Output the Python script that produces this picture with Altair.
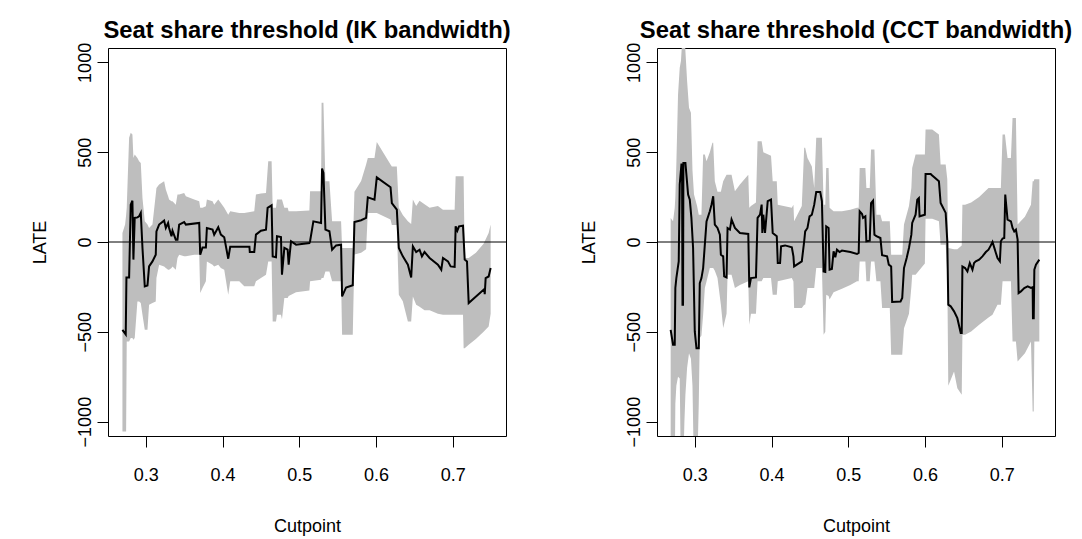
import altair as alt
import pandas as pd

# ---------------- data ----------------
X_DOMAIN = [0.2508, 0.7692]
Y_DOMAIN = [-1080, 1080]
X_TICKS = [0.3, 0.4, 0.5, 0.6, 0.7]
Y_TICKS = [-1000, -500, 0, 500, 1000]

TITLE_IK = "Seat share threshold (IK bandwidth)"
TITLE_CCT = "Seat share threshold (CCT bandwidth)"

# IK panel: point estimate
ik_cut = [
    0.2696, 0.2739, 0.2748, 0.2783, 0.2804, 0.2826, 0.2839, 0.2856, 0.2891, 0.2913,
    0.2935, 0.2957, 0.2987, 0.3022, 0.3043, 0.3087, 0.3130, 0.3139, 0.3174, 0.3239,
    0.3261, 0.3291, 0.3304, 0.3335, 0.3348, 0.3391, 0.3413, 0.3435, 0.3500, 0.3522,
    0.3696, 0.3709, 0.3739, 0.3783, 0.3796, 0.3870, 0.3891, 0.3944, 0.3978, 0.4022,
    0.4074, 0.4100, 0.4350, 0.4355, 0.4413, 0.4435, 0.4500, 0.4566, 0.4587, 0.4639,
    0.4653, 0.4696, 0.4709, 0.4761, 0.4774, 0.4805, 0.4848, 0.4861, 0.4892, 0.4957,
    0.5131, 0.5140, 0.5183, 0.5283, 0.5296, 0.5314, 0.5340, 0.5392, 0.5427, 0.5479,
    0.5544, 0.5557, 0.5609, 0.5696, 0.5718, 0.5805, 0.5870, 0.5892, 0.5979, 0.6009,
    0.6188, 0.6205, 0.6270, 0.6296, 0.6348, 0.6414, 0.6457, 0.6479, 0.6522, 0.6566,
    0.6597, 0.6631, 0.6697, 0.6805, 0.6849, 0.6871, 0.6936, 0.6971, 0.7023, 0.7036,
    0.7058, 0.7080, 0.7132, 0.7154, 0.7184, 0.7206, 0.7410, 0.7415, 0.7427, 0.7466,
    0.7492,
]
ik_late = [
    -489, -515, -197, -197, 208, 230, -98, 134, 137, 143,
    162, -33, -247, -242, -136, -108, -71, 59, 97, 119,
    78, 106, 78, 32, 63, 13, 13, 97, 111, 97,
    106, -71, -30, -30, 78, 69, 41, 82, 41, 26,
    -93, -26, -26, -55, -55, 41, 63, 69, 190, 204,
    -80, -85, 32, 28, -182, -33, -43, -126, 4, -15,
    -6, 4, 115, 106, 409, 385, 69, 60, -43, -19,
    -15, -303, -253, -241, 111, 121, 134, 249, 236, 360,
    305, 217, 180, -33, -80, -126, -197, -24, -56, -43,
    -80, -56, -89, -126, -154, -89, -108, -136, -139, 87,
    63, 87, 91, -98, -108, -340, -262, -290, -201, -192,
    -145,
]

# IK panel: confidence band
ik_band_cut = [
    0.2696, 0.2731, 0.2744, 0.2752, 0.2783, 0.2804, 0.2826, 0.2839, 0.2856, 0.2891,
    0.2913, 0.2935, 0.2957, 0.2987, 0.3022, 0.3043, 0.3087, 0.3130, 0.3139, 0.3174,
    0.3239, 0.3261, 0.3291, 0.3304, 0.3335, 0.3348, 0.3391, 0.3413, 0.3435, 0.3500,
    0.3522, 0.3631, 0.3696, 0.3709, 0.3739, 0.3783, 0.3796, 0.3870, 0.3891, 0.3944,
    0.3978, 0.4022, 0.4074, 0.4100, 0.4218, 0.4283, 0.4413, 0.4435, 0.4500, 0.4566,
    0.4595, 0.4639, 0.4653, 0.4696, 0.4709, 0.4761, 0.4774, 0.4805, 0.4848, 0.4861,
    0.4957, 0.5131, 0.5140, 0.5283, 0.5290, 0.5314, 0.5340, 0.5392, 0.5427, 0.5544,
    0.5557, 0.5696, 0.5718, 0.5805, 0.5870, 0.5892, 0.5979, 0.6009, 0.6188, 0.6205,
    0.6270, 0.6296, 0.6348, 0.6414, 0.6457, 0.6479, 0.6522, 0.6566, 0.6631, 0.6697,
    0.6805, 0.6871, 0.7023, 0.7036, 0.7132, 0.7140, 0.7154, 0.7206, 0.7300, 0.7400,
    0.7466, 0.7492,
]
ik_lo = [
    -1055, -1055, -1055, -554, -554, -535, -535, -544, -535, -331,
    -331, -340, -405, -489, -489, -349, -340, -331, -201, -126,
    -136, -145, -154, -154, -145, -136, -154, -89, -71, -80,
    -80, -71, -71, -284, -256, -219, -108, -126, -136, -126,
    -145, -154, -294, -219, -219, -247, -247, -219, -200, -182,
    -108, -108, -442, -442, -405, -405, -430, -312, -312, -300,
    -280, -270, -219, -210, -200, -200, -164, -164, -219, -219,
    -517, -517, -70, -60, -40, 162, 162, 162, 125, 95,
    95, -294, -330, -442, -442, -303, -349, -360, -380, -380,
    -400, -405, -405, -405, -405, -591, -591, -572, -540, -500,
    -470, -400,
]
ik_hi = [
    50, 97, 150, 190, 580, 608, 598, 468, 487, 468,
    450, 440, 245, 115, 97, 78, 97, 264, 301, 320,
    338, 292, 255, 236, 227, 227, 208, 264, 264, 273,
    255, 236, 227, 190, 190, 199, 236, 227, 208, 236,
    217, 190, 152, 171, 162, 162, 171, 264, 270, 273,
    450, 450, 190, 190, 236, 236, 236, 190, 190, 171,
    171, 175, 282, 282, 775, 775, 338, 338, 115, 115,
    -33, -33, 280, 340, 431, 468, 468, 557, 431, 420,
    420, 190, 150, 115, 100, 236, 200, 230, 210, 190,
    200, 180, 180, 366, 366, 366, -89, -89, -60, -10,
    50, 97,
]

# CCT panel: point estimate
cct_cut = [
    0.2686, 0.2717, 0.2739, 0.2747, 0.2760, 0.2791, 0.2804, 0.2826, 0.2834, 0.2840,
    0.2847, 0.2852, 0.2878, 0.2913, 0.2935, 0.2956, 0.2978, 0.3000, 0.3022, 0.3052,
    0.3065, 0.3087, 0.3109, 0.3131, 0.3153, 0.3196, 0.3218, 0.3240, 0.3261, 0.3296,
    0.3327, 0.3340, 0.3370, 0.3383, 0.3414, 0.3427, 0.3458, 0.3479, 0.3523, 0.3588,
    0.3697, 0.3710, 0.3732, 0.3797, 0.3818, 0.3850, 0.3871, 0.3880, 0.3893, 0.3915,
    0.3950, 0.3993, 0.4015, 0.4068, 0.4081, 0.4111, 0.4124, 0.4176, 0.4264, 0.4285,
    0.4294, 0.4394, 0.4425, 0.4438, 0.4468, 0.4495, 0.4525, 0.4556, 0.4582, 0.4634,
    0.4656, 0.4678, 0.4700, 0.4712, 0.4743, 0.4756, 0.4786, 0.4808, 0.4830, 0.4852,
    0.4886, 0.4917, 0.5026, 0.5113, 0.5135, 0.5148, 0.5179, 0.5192, 0.5222, 0.5235,
    0.5279, 0.5296, 0.5322, 0.5340, 0.5366, 0.5418, 0.5440, 0.5505, 0.5527, 0.5558,
    0.5571, 0.5680, 0.5702, 0.5725, 0.5760, 0.5790, 0.5821, 0.5832, 0.5876, 0.5898,
    0.5919, 0.5928, 0.5997, 0.6006, 0.6072, 0.6093, 0.6180, 0.6202, 0.6224, 0.6268,
    0.6289, 0.6302, 0.6333, 0.6377, 0.6420, 0.6464, 0.6477, 0.6486, 0.6521, 0.6551,
    0.6582, 0.6617, 0.6638, 0.6660, 0.6704, 0.6747, 0.6791, 0.6826, 0.6856, 0.6878,
    0.6900, 0.6922, 0.6943, 0.6974, 0.6987, 0.7009, 0.7031, 0.7044, 0.7074, 0.7118,
    0.7139, 0.7161, 0.7183, 0.7205, 0.7218, 0.7248, 0.7292, 0.7336, 0.7379, 0.7401,
    0.7405, 0.7415, 0.7423, 0.7444, 0.7488,
]
cct_late = [
    -489, -572, -572, -256, -201, -108, 320, 431, 431, -349,
    -349, 440, 440, 264, 236, 134, -33, -498, -591, -591,
    -229, -201, -145, -15, 115, 171, 208, 255, 97, 78,
    41, -71, -80, -191, -197, 78, 69, 125, 78, 50,
    45, -253, -201, -197, 134, 152, 208, 50, 152, 50,
    227, 236, 50, 32, -117, -117, -24, -19, -30, -80,
    -136, -108, 4, 59, 78, 143, 152, 208, 279, 279,
    227, -164, -167, 87, 78, -154, -150, -52, -85, -43,
    -56, -48, -56, -67, -61, 171, 156, 134, 143, 4,
    7, 217, 230, 41, 32, 22, -74, -80, -126, -136,
    -334, -331, -312, -145, -89, -33, 41, 106, 152, 236,
    245, 143, 152, 379, 379, 370, 338, 217, 199, 162,
    4, -349, -358, -386, -424, -507, -507, -136, -145, -164,
    -117, -154, -117, -108, -98, -80, -56, -43, -19, 0,
    -30, -61, -89, -108, 4, 19, 22, 264, 125, 115,
    78, 59, 69, 13, -284, -275, -256, -247, -256, -252,
    -424, -424, -154, -126, -98,
]

# CCT panel: confidence band (values beyond the axis range are clipped)
cct_band_cut = [
    0.2686, 0.2717, 0.2739, 0.2747, 0.2760, 0.2782, 0.2804, 0.2820, 0.2847, 0.2865,
    0.2878, 0.2900, 0.2925, 0.2950, 0.2970, 0.2990, 0.3030, 0.3052, 0.3065, 0.3087,
    0.3109, 0.3131, 0.3153, 0.3196, 0.3230, 0.3240, 0.3261, 0.3296, 0.3340, 0.3370,
    0.3414, 0.3427, 0.3479, 0.3523, 0.3588, 0.3697, 0.3710, 0.3732, 0.3797, 0.3818,
    0.3871, 0.3893, 0.3993, 0.4015, 0.4068, 0.4081, 0.4264, 0.4285, 0.4294, 0.4394,
    0.4425, 0.4438, 0.4468, 0.4525, 0.4556, 0.4582, 0.4656, 0.4678, 0.4700, 0.4712,
    0.4743, 0.4756, 0.4808, 0.4917, 0.5026, 0.5113, 0.5135, 0.5148, 0.5222, 0.5235,
    0.5279, 0.5296, 0.5340, 0.5366, 0.5418, 0.5440, 0.5540, 0.5558, 0.5702, 0.5725,
    0.5790, 0.5821, 0.5832, 0.5876, 0.5997, 0.6006, 0.6093, 0.6180, 0.6202, 0.6268,
    0.6289, 0.6302, 0.6377, 0.6420, 0.6477, 0.6486, 0.6521, 0.6600, 0.6704, 0.6826,
    0.6878, 0.6943, 0.6987, 0.7009, 0.7040, 0.7074, 0.7118, 0.7139, 0.7183, 0.7205,
    0.7300, 0.7379, 0.7401, 0.7415, 0.7423, 0.7488,
]
cct_lo = [
    -1300, -1300, -1300, -900, -800, -750, -760, -1300, -1300, -1000,
    -850, -700, -620, -650, -800, -1300, -1300, -900, -535, -520,
    -405, -256, -220, -145, -145, -145, -160, -200, -350, -479,
    -400, -182, -182, -256, -240, -219, -461, -400, -400, -219,
    -219, -200, -200, -294, -294, -219, -200, -220, -368, -368,
    -350, -350, -256, -256, -256, -145, -145, -517, -500, -294,
    -300, -320, -280, -260, -240, -219, -219, -108, -108, -219,
    -219, -108, -108, -219, -219, -368, -368, -628, -628, -480,
    -400, -250, -182, -182, -120, 130, 130, 115, -15, -15,
    -182, -800, -721, -814, -851, -517, -517, -498, -460, -420,
    -405, -349, -350, -219, -219, -219, -219, -554, -554, -665,
    -620, -554, -944, -944, -554, -554,
]
cct_hi = [
    134, 115, 190, 250, 431, 821, 970, 1007, 1200, 1200,
    1063, 896, 747, 720, 400, 264, 200, 152, 152, 152,
    487, 487, 450, 500, 552, 552, 338, 280, 280, 338,
    375, 375, 375, 282, 320, 375, 190, 200, 220, 561,
    561, 500, 480, 338, 338, 208, 190, 208, 115, 200,
    524, 524, 468, 420, 300, 580, 580, 208, 208, 412,
    412, 190, 171, 171, 180, 190, 190, 412, 412, 301,
    301, 515, 515, 152, 152, 115, 115, -71, -71, 97,
    200, 301, 412, 487, 487, 626, 626, 598, 431, 431,
    350, -33, -40, -40, -20, 208, 208, 220, 250, 301,
    301, 301, 301, 598, 598, 468, 468, 691, 691, 97,
    140, 208, 338, 338, 350, 350,
]

# ---------------- chart ----------------
FONT = "Liberation Sans"
GREY = "#BEBEBE"


def panel(title, cut, late, band_cut, lo, hi):
    line_df = pd.DataFrame({"cut": cut, "late": late})
    band_df = pd.DataFrame({"cut": band_cut, "lo": lo, "hi": hi})
    zero_df = pd.DataFrame({"z": [0]})

    xs = alt.Scale(domain=X_DOMAIN, nice=False, zero=False)
    ys = alt.Scale(domain=Y_DOMAIN, nice=False, zero=False)
    x_axis = alt.Axis(
        values=X_TICKS, format=".1f", title="Cutpoint",
        titleX=199, titleY=90, titleBaseline="middle", titleAlign="center",
    )
    y_axis = alt.Axis(
        values=Y_TICKS, format="d", title="LATE",
        labelAngle=270, labelAlign="center", labelBaseline="middle",
        titleAngle=270, titleX=-68, titleY=194, titleBaseline="middle",
        titleAlign="center",
    )

    band = alt.Chart(band_df).mark_area(color=GREY, clip=True, opacity=1).encode(
        x=alt.X("cut:Q", scale=xs, axis=x_axis),
        y=alt.Y("lo:Q", scale=ys, axis=y_axis),
        y2="hi:Q",
    )
    line = alt.Chart(line_df).mark_line(color="black", strokeWidth=2, clip=True).encode(
        x=alt.X("cut:Q", scale=xs),
        y=alt.Y("late:Q", scale=ys),
    )
    zero = alt.Chart(zero_df).mark_rule(color="black", strokeWidth=1).encode(
        y=alt.Y("z:Q", scale=ys),
    )
    return alt.layer(band, line, zero).properties(
        width=398,
        height=388,
        title=alt.Title(
            title, font=FONT, fontSize=23.8, fontWeight="bold", color="black",
            anchor="middle", offset=0,
        ),
    )


left = panel(TITLE_IK, ik_cut, ik_late, ik_band_cut, ik_lo, ik_hi)
right = panel(TITLE_CCT, cct_cut, cct_late, cct_band_cut, cct_lo, cct_hi)

chart = (
    alt.hconcat(left, right, spacing=151, bounds="flush")
    .properties(padding={"left": 22, "top": 10, "right": 0, "bottom": 5})
    .configure_view(stroke="black", strokeWidth=1)
    .configure_axis(
        grid=False, domain=False,
        tickColor="black", tickSize=11, tickWidth=1,
        labelFont=FONT, labelFontSize=18, labelColor="black",
        labelPadding=8,
        titleFont=FONT, titleFontSize=18, titleFontWeight="normal", titleColor="black",
    )
    .configure_axisX(labelPadding=19, labelBaseline="top")
    .configure_axisY(labelPadding=12)
)

chart.save("out.html", embed_options={"renderer": "svg", "actions": False})
